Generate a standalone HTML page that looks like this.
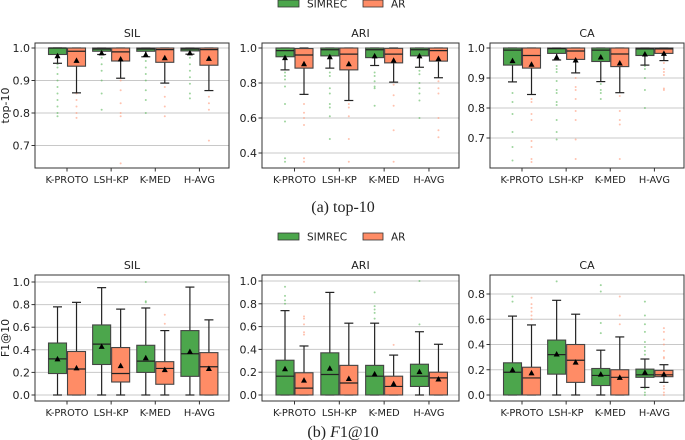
<!DOCTYPE html>
<html><head><meta charset="utf-8"><style>
body{margin:0;background:#fff}
svg{display:block;font-family:"DejaVu Sans","Liberation Sans",sans-serif}
</style></head><body>
<svg id="c" width="685" height="440" viewBox="0 0 685 440" xmlns="http://www.w3.org/2000/svg"></svg>
<script>
const categories = ["K-PROTO","LSH-KP","K-MED","H-AVG"];
const seriesNames = ["SIMREC","AR"];
// each box: [q1, median, q3, whiskerLow, whiskerHigh, mean, fliers]
const topSIL = [
 [[.98,1.0,1.0,.953,1,.976,[.95,.94,.92,.9,.88,.86,.84,.82,.8,.79]],[.944,.99,1.0,.862,1,.962,[.86,.84,.82,.8,.785]]],
 [[.99,.997,1,.98,1,.985,[.97,.95,.93,.9,.86,.81]],[.96,.988,1,.907,1,.966,[.9,.87,.83,.8,.79,.645]]],
 [[.99,.997,1,.973,1,.98,[.96,.94,.92,.9,.87,.84,.8]],[.956,.995,1,.892,1,.97,[.88,.85,.82,.79]]],
 [[.991,.997,1,.981,1,.985,[.97,.95,.93,.91,.89,.86,.845]],[.947,.995,1,.869,1,.968,[.85,.83,.81,.715]]]];
const topARI = [
 [[.95,.985,1,.875,1,.945,[.86,.84,.82,.78,.68,.58,.37,.35]],[.885,.96,.997,.735,1,.91,[.68,.63,.6,.56,.37,.35]]],
 [[.955,.99,1,.885,1,.95,[.86,.84,.77,.74,.68,.66,.61,.48]],[.875,.965,1,.70,1,.91,[.68,.66,.61,.48,.35]]],
 [[.945,.99,1,.9,1,.955,[.86,.84,.81,.78,.77,.67]],[.915,.965,.998,.805,1,.93,[.79,.73,.67,.53,.35]]],
 [[.955,.99,1,.89,1,.955,[.87,.85,.8,.77,.74,.7,.6]],[.925,.985,1,.83,1,.94,[.81,.77,.74,.6,.53,.49]]]];
const topCA = [
 [[.943,.993,1,.887,1,.958,[.85,.82,.78,.72,.67,.625]],[.933,.975,1,.845,1,.946,[.83,.82,.78,.76,.69,.67,.63,.62]]],
 [[.982,.998,1,.96,1,.97,[.94,.93,.92,.89,.86,.85,.82,.81,.76,.72,.695]],[.962,.99,1,.917,1,.96,[.9,.87,.86,.83,.79,.76,.695,.63]]],
 [[.955,.993,1,.888,1,.97,[.88,.86,.85,.83]],[.938,.98,1,.851,1,.95,[.84,.79,.76,.745,.63]]],
 [[.975,.997,1,.943,1,.98,[.94,.93,.9,.86,.8]],[.982,.997,1,.958,1,.982,[.95,.93,.92,.91,.865,.86]]]];
const botSIL = [
 [[.19,.32,.46,0,.78,.32,[]],[0,.23,.385,0,.82,.24,[]]],
 [[.27,.45,.62,0,.95,.43,[]],[.115,.19,.42,0,.76,.26,[]]],
 [[.2,.3,.44,0,.77,.33,[1.0,.83,.82]],[.095,.235,.295,0,.57,.225,[.71,.63]]],
 [[.165,.365,.57,0,.955,.385,[]],[0,.25,.375,0,.665,.235,[]]]];
const botARI = [
 [[0,.165,.305,0,.74,.23,[.95,.87,.83,.8]],[0,.06,.195,0,.43,.13,[.69,.67,.62,.55,.53]]],
 [[0,.18,.37,0,.9,.235,[]],[0,.105,.26,0,.63,.145,[]]],
 [[0,.165,.26,0,.63,.185,[.9,.78,.75,.72,.67]],[0,.075,.165,0,.35,.1,[.44]]],
 [[.075,.165,.27,0,.555,.205,[1.0,.62]],[0,.15,.2,0,.445,.14,[]]]];
const botCA = [
 [[0,.18,.255,0,.625,.2,[.78,.74]],[0,.135,.22,0,.555,.175,[.77,.72,.69,.66,.63,.6]]],
 [[.165,.32,.435,0,.75,.325,[.9]],[.1,.275,.4,0,.64,.26,[]]],
 [[.075,.155,.21,0,.355,.165,[.87,.82,.57,.49]],[0,.14,.2,0,.46,.14,[.78,.63,.56]]],
 [[.14,.16,.205,.06,.285,.18,[.74,.63,.56,.5,.42,.38,.35,.32,.05,.02,0]],[.145,.16,.195,.1,.24,.165,[.53,.5,.44,.4,.35,.3,.29,.07,.05,.02,0]]]];
const ticksTopSIL=[0.7,0.8,0.9,1.0], ticksTopARI=[0.4,0.6,0.8,1.0], ticksTopCA=[0.7,0.8,0.9,1.0];
const ticksBot=[0,0.2,0.4,0.6,0.8,1.0], ticksBotCA=[0,0.2,0.4,0.6,0.8];

const svg=document.getElementById('c');
const NS="http://www.w3.org/2000/svg";
function mk(tag,at,txt){const e=document.createElementNS(NS,tag);for(const k in at)e.setAttribute(k,at[k]);if(txt!==undefined)e.textContent=txt;svg.appendChild(e);return e;}
const colors=["#4ca64c","#ff8c66"], fl=["#5cb85c","#ff9a7a"];

function panel(name,title,data,ticks,box,ax,ylab){
 const [x0,x1,yt,yb]=box;
 const y=v=>ax[1]+(v-ax[0])*(ax[3]-ax[1])/(ax[2]-ax[0]);
 let e=mk('text',{x:(x0+x1)/2,y:yt-6,'text-anchor':'middle','font-size':11,fill:'#222'},title);
 
 ticks.forEach(t=>{
  e=mk('line',{x1:x0,x2:x1,y1:y(t),y2:y(t),stroke:'#c8c8c8','stroke-width':1});
  
  mk('line',{x1:x0-3.5,x2:x0,y1:y(t),y2:y(t),stroke:'#333'});
  e=mk('text',{x:x0-5,y:y(t)+4,'text-anchor':'end','font-size':11,fill:'#222'},t.toFixed(1));
  
 });
 const w=(x1-x0);
 categories.forEach((c,i)=>{
  const cx=x0+w*(0.165+0.2275*i);
  mk('line',{x1:cx,x2:cx,y1:yb,y2:yb+3.5,stroke:'#333'});
  e=mk('text',{x:cx,y:yb+15,'text-anchor':'middle','font-size':9.8,fill:'#222'},c);
  
  data[i].forEach((b,s)=>{
   const bx=cx+(s?9.5:-9.5), hw=9;
   const [q1,md,q3,wl,wh,mn,f]=b;
   f.forEach(v=>{e=mk('circle',{cx:bx,cy:y(v),r:1,fill:fl[s],opacity:.6});
    });
   mk('line',{x1:bx,x2:bx,y1:y(wh),y2:y(q3),stroke:'#222','stroke-width':1.2});
   mk('line',{x1:bx,x2:bx,y1:y(q1),y2:y(wl),stroke:'#222','stroke-width':1.2});
   mk('line',{x1:bx-4.5,x2:bx+4.5,y1:y(wh),y2:y(wh),stroke:'#222','stroke-width':1.2});
   mk('line',{x1:bx-4.5,x2:bx+4.5,y1:y(wl),y2:y(wl),stroke:'#222','stroke-width':1.2});
   e=mk('rect',{x:bx-hw,y:y(q3),width:2*hw,height:Math.max(0.5,y(q1)-y(q3)),fill:colors[s],stroke:'#444','stroke-width':1.1});
   
   mk('line',{x1:bx-hw,x2:bx+hw,y1:y(md),y2:y(md),stroke:'#222','stroke-width':1.2});
   const my=y(mn);
   e=mk('polygon',{points:`${bx-3},${my+2.5} ${bx+3},${my+2.5} ${bx},${my-3}`,fill:'#000'});
   
  });
 });
 e=mk('rect',{x:x0,y:yt,width:x1-x0,height:yb-yt,fill:'none',stroke:'#333','stroke-width':1});
 
 if(ylab){e=mk('text',{x:0,y:0,transform:`translate(${x0-26},${(yt+yb)/2}) rotate(-90)`,'text-anchor':'middle','font-size':11,fill:'#222'},ylab);
  }
}
function legend(ly,n){
 let e;
 e=mk('rect',{x:278,y:ly,width:21,height:7,fill:colors[0],stroke:'#333','stroke-width':.8});
 
 e=mk('text',{x:307,y:ly+7.5,'font-size':10.5,fill:'#222'},'SIMREC');
 
 e=mk('rect',{x:363,y:ly,width:20,height:7,fill:colors[1],stroke:'#333','stroke-width':.8});
 
 e=mk('text',{x:391,y:ly+7.5,'font-size':10.5,fill:'#222'},'AR');
 
}
legend(0,'top');legend(233,'bottom');
panel('top-sil','SIL',topSIL,ticksTopSIL,[35,229,43,168],[1.0,48,0.7,145.5],'top-10');
panel('top-ari','ARI',topARI,ticksTopARI,[262,459,43,168],[1.0,48,0.4,153],null);
panel('top-ca','CA',topCA,ticksTopCA,[490,684,43,168],[1.0,48,0.7,138],null);
panel('bottom-sil','SIL',botSIL,ticksBot,[35,229,275,401],[1.0,282,0,395],'F1@10');
panel('bottom-ari','ARI',botARI,ticksBot,[262,459,275,401],[1.0,281,0,395],null);
panel('bottom-ca','CA',botCA,ticksBotCA,[490,684,275,401],[0.8,294,0,395],null);
let cap=mk('text',{x:343,y:212,'text-anchor':'middle','font-size':16,'font-family':'"Liberation Serif",serif',fill:'#222'},'(a) top-10');

cap=mk('text',{x:343,y:437,'text-anchor':'middle','font-size':16,'font-family':'"Liberation Serif",serif',fill:'#222'});

cap.innerHTML='(b) <tspan font-style="italic">F</tspan>1@10';
</script>
</body></html>
